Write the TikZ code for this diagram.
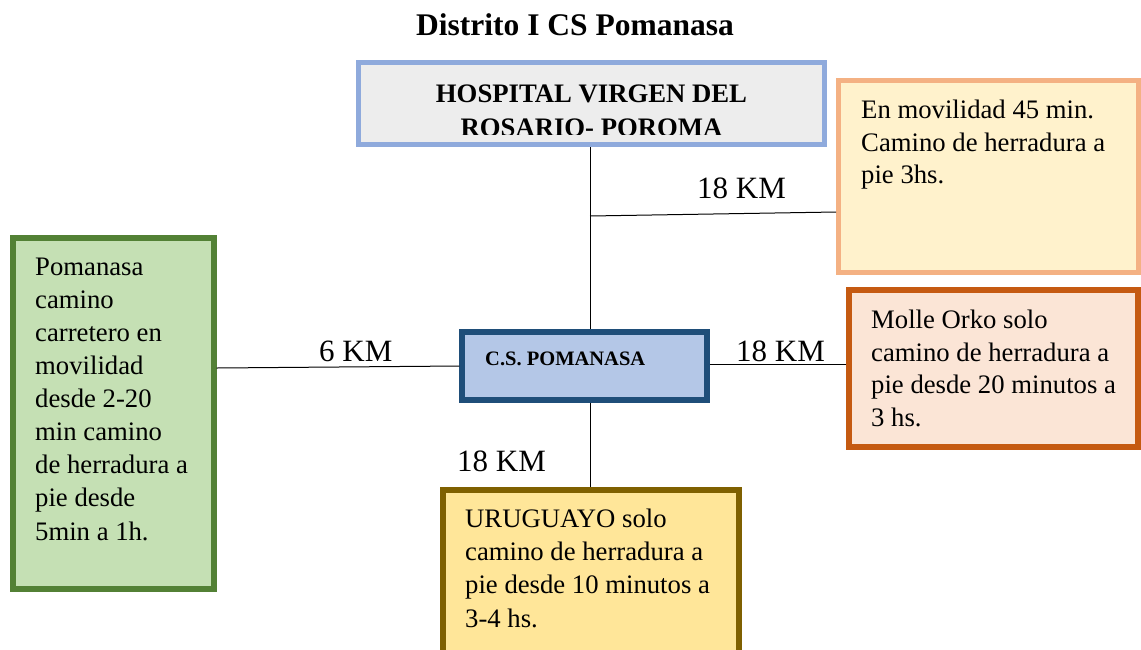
\documentclass[tikz,border=0pt]{standalone}
\usepackage{fontspec}
\setmainfont{Liberation Serif}
\usetikzlibrary{calc}
\definecolor{hospB}{HTML}{8FAADC}
\definecolor{hospF}{HTML}{EDEDED}
\definecolor{orB}{HTML}{F4B183}
\definecolor{orF}{HTML}{FFF2CC}
\definecolor{grB}{HTML}{538135}
\definecolor{grF}{HTML}{C5E0B4}
\definecolor{csB}{HTML}{1F4E79}
\definecolor{csF}{HTML}{B4C7E7}
\definecolor{moB}{HTML}{C55A11}
\definecolor{moF}{HTML}{FBE5D6}
\definecolor{urB}{HTML}{7F6000}
\definecolor{urF}{HTML}{FFE699}
\newcommand{\bodyfont}{\fontsize{26.7}{32.8}\selectfont}
\newcommand{\kmfont}{\fontsize{31}{36}\selectfont}
\newcommand{\strutA}{\rule{0pt}{20pt}}
\begin{document}
\begin{tikzpicture}[x=1pt,y=-1pt,
  boxa/.style={draw, rectangle, inner sep=0pt, line width=5pt, outer sep=2.5pt},
  boxb/.style={draw, rectangle, inner sep=0pt, line width=6pt, outer sep=3pt},
  txt/.style={inner sep=0pt, anchor=north west, align=left, font=\bodyfont},
  km/.style={inner sep=0pt, anchor=base west, font=\kmfont},
  conn/.style={draw=black, line width=1pt}]
\clip (0,0) rectangle (1141,649);
\fill[white] (0,0) rectangle (1141,649);

% title
\node[inner sep=0pt, anchor=base, font=\fontsize{31.5}{36}\selectfont\bfseries] (title) at (575,35) {Distrito I CS Pomanasa};

% boxes
\node[boxa, draw=hospB, fill=hospF, minimum width=466pt, minimum height=82pt] (hosp) at (591.5,103.5) {};
\node[boxa, draw=orB, fill=orF, minimum width=300pt, minimum height=192pt] (orange) at (988.5,176.5) {};
\node[boxb, draw=grB, fill=grF, minimum width=200.7pt, minimum height=350.7pt] (green) at (113.3,413.3) {};
\node[boxb, draw=csB, fill=csF, minimum width=244.7pt, minimum height=67.4pt] (cs) at (584.6,366) {};
\node[boxb, draw=moB, fill=moF, minimum width=289pt, minimum height=157pt] (molle) at (993.5,368.5) {};
\node[boxb, draw=urB, fill=urF, minimum width=295.7pt, minimum height=180pt] (uru) at (590.8,579.7) {};

% hospital text (clipped by the box)
\begin{scope}
\clip (362,66) rectangle (821,134);
\node[inner sep=0pt, anchor=north, align=center, font=\fontsize{26.7}{34.5}\selectfont\bfseries] (hospT) at (591.5,82) {\strutA HOSPITAL VIRGEN DEL\\ROSARIO- POROMA};
\end{scope}

% other texts
\node[inner sep=0pt, anchor=base west, font=\fontsize{20.5}{24}\selectfont\bfseries] (csT) at (485,365) {C.S. POMANASA};
\node[txt] (orT) at (861,98) {\strutA En movilidad 45 min.\\Camino de herradura a\\pie 3hs.};
\node[txt] (moT) at (871,308) {\strutA Molle Orko solo\\camino de herradura a\\pie desde 20 minutos a\\3 hs.};
\node[txt, font=\fontsize{26.7}{33.1}\selectfont] (grT) at (35,255) {\strutA Pomanasa\\camino\\carretero en\\movilidad\\desde 2-20\\min camino\\de herradura a\\pie desde\\5min a 1h.};
\node[txt, font=\fontsize{26.7}{33.3}\selectfont] (urT) at (465,507) {\strutA URUGUAYO solo\\camino de herradura a\\pie desde 10 minutos a\\3-4 hs.};

% connectors
\coordinate (j) at (590,216);
\coordinate (oe) at ($(orange.west)+(0,35.5)$);
\coordinate (ge) at ($(green.east)+(0,-45.3)$);
\draw[conn] (hosp.south -| j) -- (j |- cs.north);
\draw[conn] (j) -- (oe);
\draw[conn] (ge) -- (cs.west);
\draw[conn] ($(cs.east)+(0,-2)$) -- ($(cs.east -| molle.west)+(0,-2)$);
\draw[conn] (cs.south -| j) -- (j |- uru.north);

% distance labels
\node[km] (k1) at (697,198) {18 KM};
\node[km] (k2) at (319,361) {6 KM};
\node[km] (k3) at (736,361) {18 KM};
\node[km] (k4) at (457,471) {18 KM};
\end{tikzpicture}
\end{document}
